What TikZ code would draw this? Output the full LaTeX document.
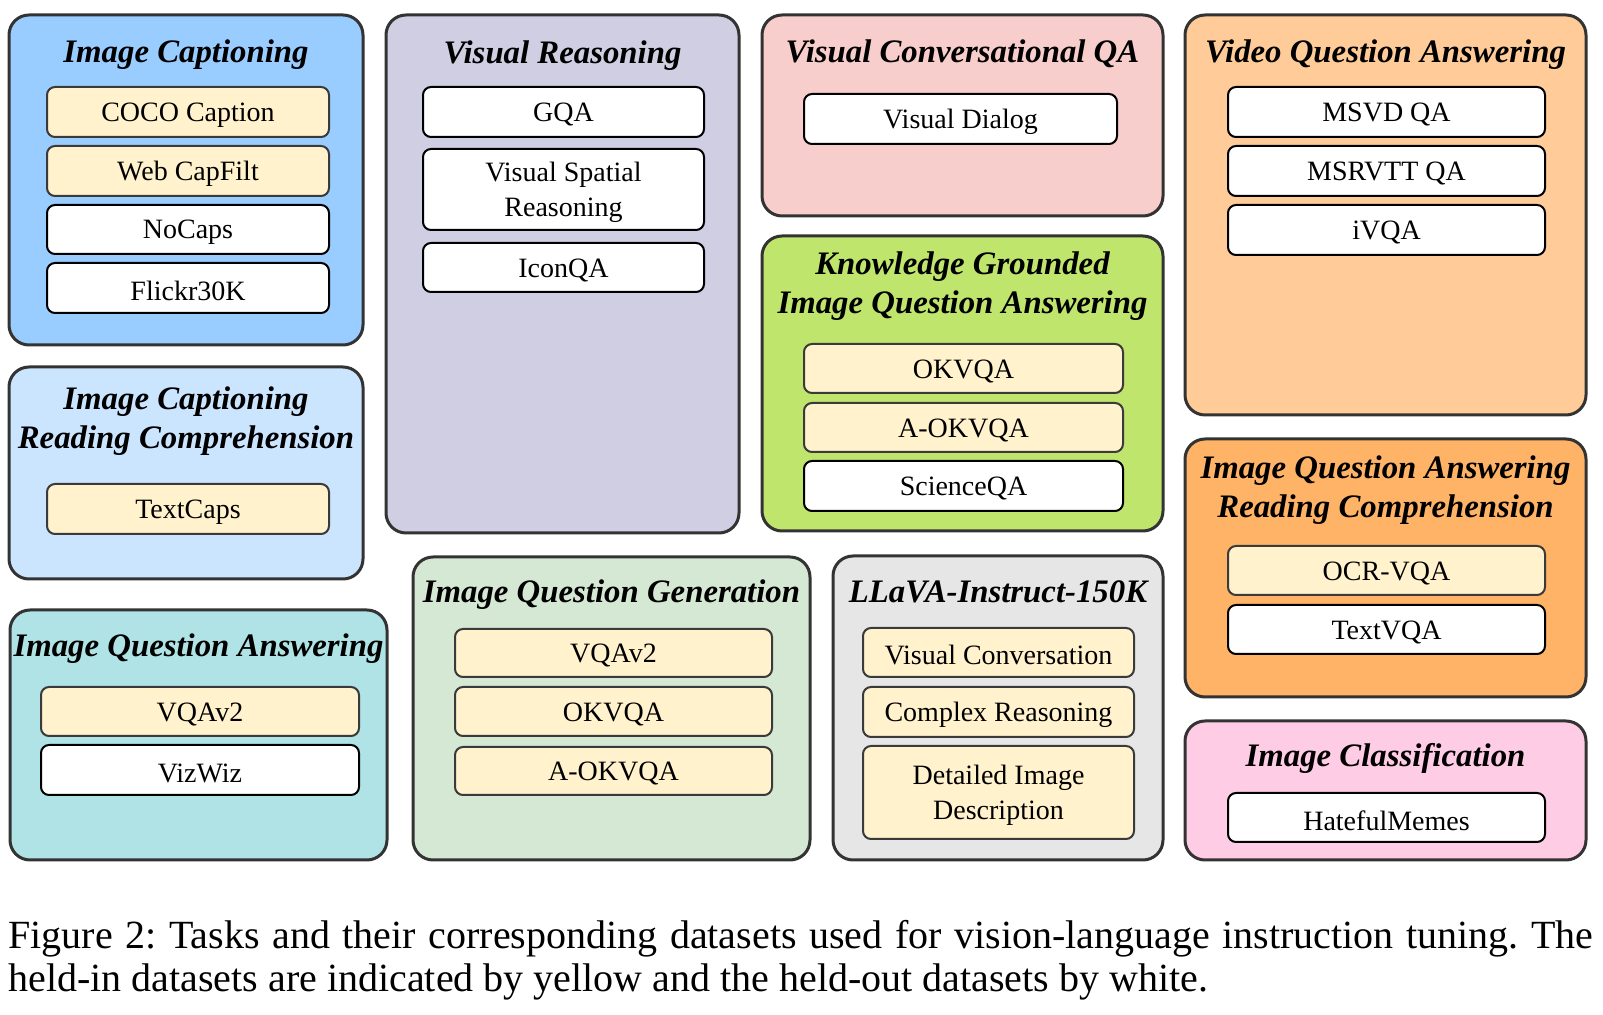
\documentclass[tikz,border=0pt]{standalone}
\usepackage{fontspec}
\setmainfont{Liberation Serif}
\usetikzlibrary{fit}
\frenchspacing
\definecolor{boxline}{HTML}{333333}
\definecolor{yline}{HTML}{3A3A3A}
\definecolor{ylw}{HTML}{FFF2CC}
\definecolor{cIC}{HTML}{99CCFF}
\definecolor{cICRC}{HTML}{CCE5FF}
\definecolor{cIQA}{HTML}{B0E3E6}
\definecolor{cVR}{HTML}{D0CEE2}
\definecolor{cIQG}{HTML}{D5E8D4}
\definecolor{cVCQA}{HTML}{F8CECC}
\definecolor{cKG}{HTML}{C0E56C}
\definecolor{cLL}{HTML}{E6E6E6}
\definecolor{cVQA}{HTML}{FFCC99}
\definecolor{cIQARC}{HTML}{FFB366}
\definecolor{cCLS}{HTML}{FFCCE6}
\newcommand\ttlfont{\fontsize{16.4}{20}\selectfont\bfseries\itshape}
\newcommand\itmfont{\fontsize{14}{17.5}\selectfont}
\newcommand\capfont{\fontsize{20}{21.5}\selectfont}
\tikzset{
  obox/.style={draw=boxline, line width=1.5pt, rounded corners=10pt, inner sep=0pt},
  wbox/.style={draw=black, line width=1pt, rounded corners=4pt, inner sep=0pt, fill=white},
  ybox/.style={wbox, draw=yline, fill=ylw},
  itm/.style={font=\itmfont, align=center, inner sep=0pt, anchor=center, yshift=-1.5pt},
  ttl/.style={font=\ttlfont, anchor=base, inner sep=0pt, yshift=-1pt},
}
\newcommand\dsbox[4]{% style, name, corners, text
  \node[#1, fit={#3}] (#2) {};
  \node[itm] (#2-t) at (#2.center) {#4};}
\begin{document}
\begin{tikzpicture}[x=0.5pt,y=-0.5pt]
\useasboundingbox (0,0) rectangle (1603,1015);
% outer boxes
\node[obox, fill=cIC,    fit={(9,15) (363,345)}] (ic) {};
\node[obox, fill=cICRC,  fit={(9,367) (363,579)}] (icrc) {};
\node[obox, fill=cIQA,   fit={(10,610) (387,860)}] (iqa) {};
\node[obox, fill=cVR,    fit={(386,15) (739,533)}] (vr) {};
\node[obox, fill=cIQG,   fit={(413,557) (810,860)}] (iqg) {};
\node[obox, fill=cVCQA,  fit={(762,15) (1163,216)}] (vcqa) {};
\node[obox, fill=cKG,    fit={(762,236) (1163,531)}] (kg) {};
\node[obox, fill=cLL,    fit={(833,556) (1163,860)}] (ll) {};
\node[obox, fill=cVQA,   fit={(1185,15) (1586,415)}] (vqa) {};
\node[obox, fill=cIQARC, fit={(1185,439) (1586,697)}] (iqarc) {};
\node[obox, fill=cCLS,   fit={(1185,721) (1586,860)}] (cls) {};
% titles
\node[ttl] (t-ic) at (186,61) {Image Captioning};
\node[ttl] (t-icrc1) at (186,408) {Image Captioning};
\node[ttl] (t-icrc2) at (186,447) {Reading Comprehension};
\node[ttl] (t-iqa) at (198.5,655) {Image Question Answering};
\node[ttl] (t-vr) at (562.5,62) {Visual Reasoning};
\node[ttl] (t-iqg) at (611.5,601) {Image Question Generation};
\node[ttl] (t-vcqa) at (962.5,61) {Visual Conversational QA};
\node[ttl] (t-kg1) at (962.5,273) {Knowledge Grounded};
\node[ttl] (t-kg2) at (962.5,312) {Image Question Answering};
\node[ttl] (t-ll) at (998,601) {LLaVA-Instruct-150K};
\node[ttl] (t-vqa) at (1385.5,61) {Video Question Answering};
\node[ttl] (t-iqarc1) at (1385.5,477) {Image Question Answering};
\node[ttl] (t-iqarc2) at (1385.5,516) {Reading Comprehension};
\node[ttl] (t-cls) at (1385.5,765) {Image Classification};
% items: image captioning
\dsbox{ybox}{coco}{(47,87) (329,137)}{COCO Caption}
\dsbox{ybox}{web}{(47,146) (329,196)}{Web CapFilt}
\dsbox{wbox}{nocaps}{(47,205) (329,254)}{NoCaps}
\dsbox{wbox}{flickr}{(47,263) (329,313)}{Flickr30K}
% image captioning reading comprehension
\dsbox{ybox}{textcaps}{(47,484) (329,534)}{TextCaps}
% image question answering
\dsbox{ybox}{vqav2a}{(41,687) (359,736)}{VQAv2}
\dsbox{wbox}{vizwiz}{(41,745) (359,795)}{VizWiz}
% visual reasoning
\dsbox{wbox}{gqa}{(423,87) (704,137)}{GQA}
\dsbox{wbox}{vsr}{(423,149) (704,230)}{Visual Spatial\\Reasoning}
\dsbox{wbox}{iconqa}{(423,243) (704,292)}{IconQA}
% image question generation
\dsbox{ybox}{vqav2b}{(455,629) (772,677)}{VQAv2}
\dsbox{ybox}{okvqab}{(455,687) (772,736)}{OKVQA}
\dsbox{ybox}{aokvqab}{(455,747) (772,795)}{A-OKVQA}
% visual conversational QA
\dsbox{wbox}{vdialog}{(804,94) (1117,144)}{Visual Dialog}
% knowledge grounded
\dsbox{ybox}{okvqa}{(804,344) (1123,393)}{OKVQA}
\dsbox{ybox}{aokvqa}{(804,403) (1123,452)}{A-OKVQA}
\dsbox{wbox}{sciqa}{(804,461) (1123,511)}{ScienceQA}
% llava
\dsbox{ybox}{vconv}{(863,628) (1134,677)}{Visual Conversation}
\dsbox{ybox}{creason}{(863,687) (1134,737)}{Complex Reasoning}
\dsbox{ybox}{ddesc}{(863,746) (1134,839)}{Detailed Image\\Description}
% video QA
\dsbox{wbox}{msvd}{(1228,87) (1545,137)}{MSVD QA}
\dsbox{wbox}{msrvtt}{(1228,146) (1545,196)}{MSRVTT QA}
\dsbox{wbox}{ivqa}{(1228,205) (1545,255)}{iVQA}
% IQA reading comprehension
\dsbox{ybox}{ocrvqa}{(1228,546) (1545,595)}{OCR-VQA}
\dsbox{wbox}{textvqa}{(1228,605) (1545,654)}{TextVQA}
% image classification
\dsbox{wbox}{hateful}{(1228,793) (1545,842)}{HatefulMemes}
% caption
\node[anchor=base west, inner sep=0pt, font=\capfont] (cap1) at (8,949)
  {\makebox[792.5pt][s]{Figure 2: Tasks and their corresponding datasets used for vision-language instruction tuning. The}};
\node[anchor=base west, inner sep=0pt, font=\capfont] (cap2) at (8,992)
  {held-in datasets are indicated by yellow and the held-out datasets by white.};
\end{tikzpicture}
\end{document}
